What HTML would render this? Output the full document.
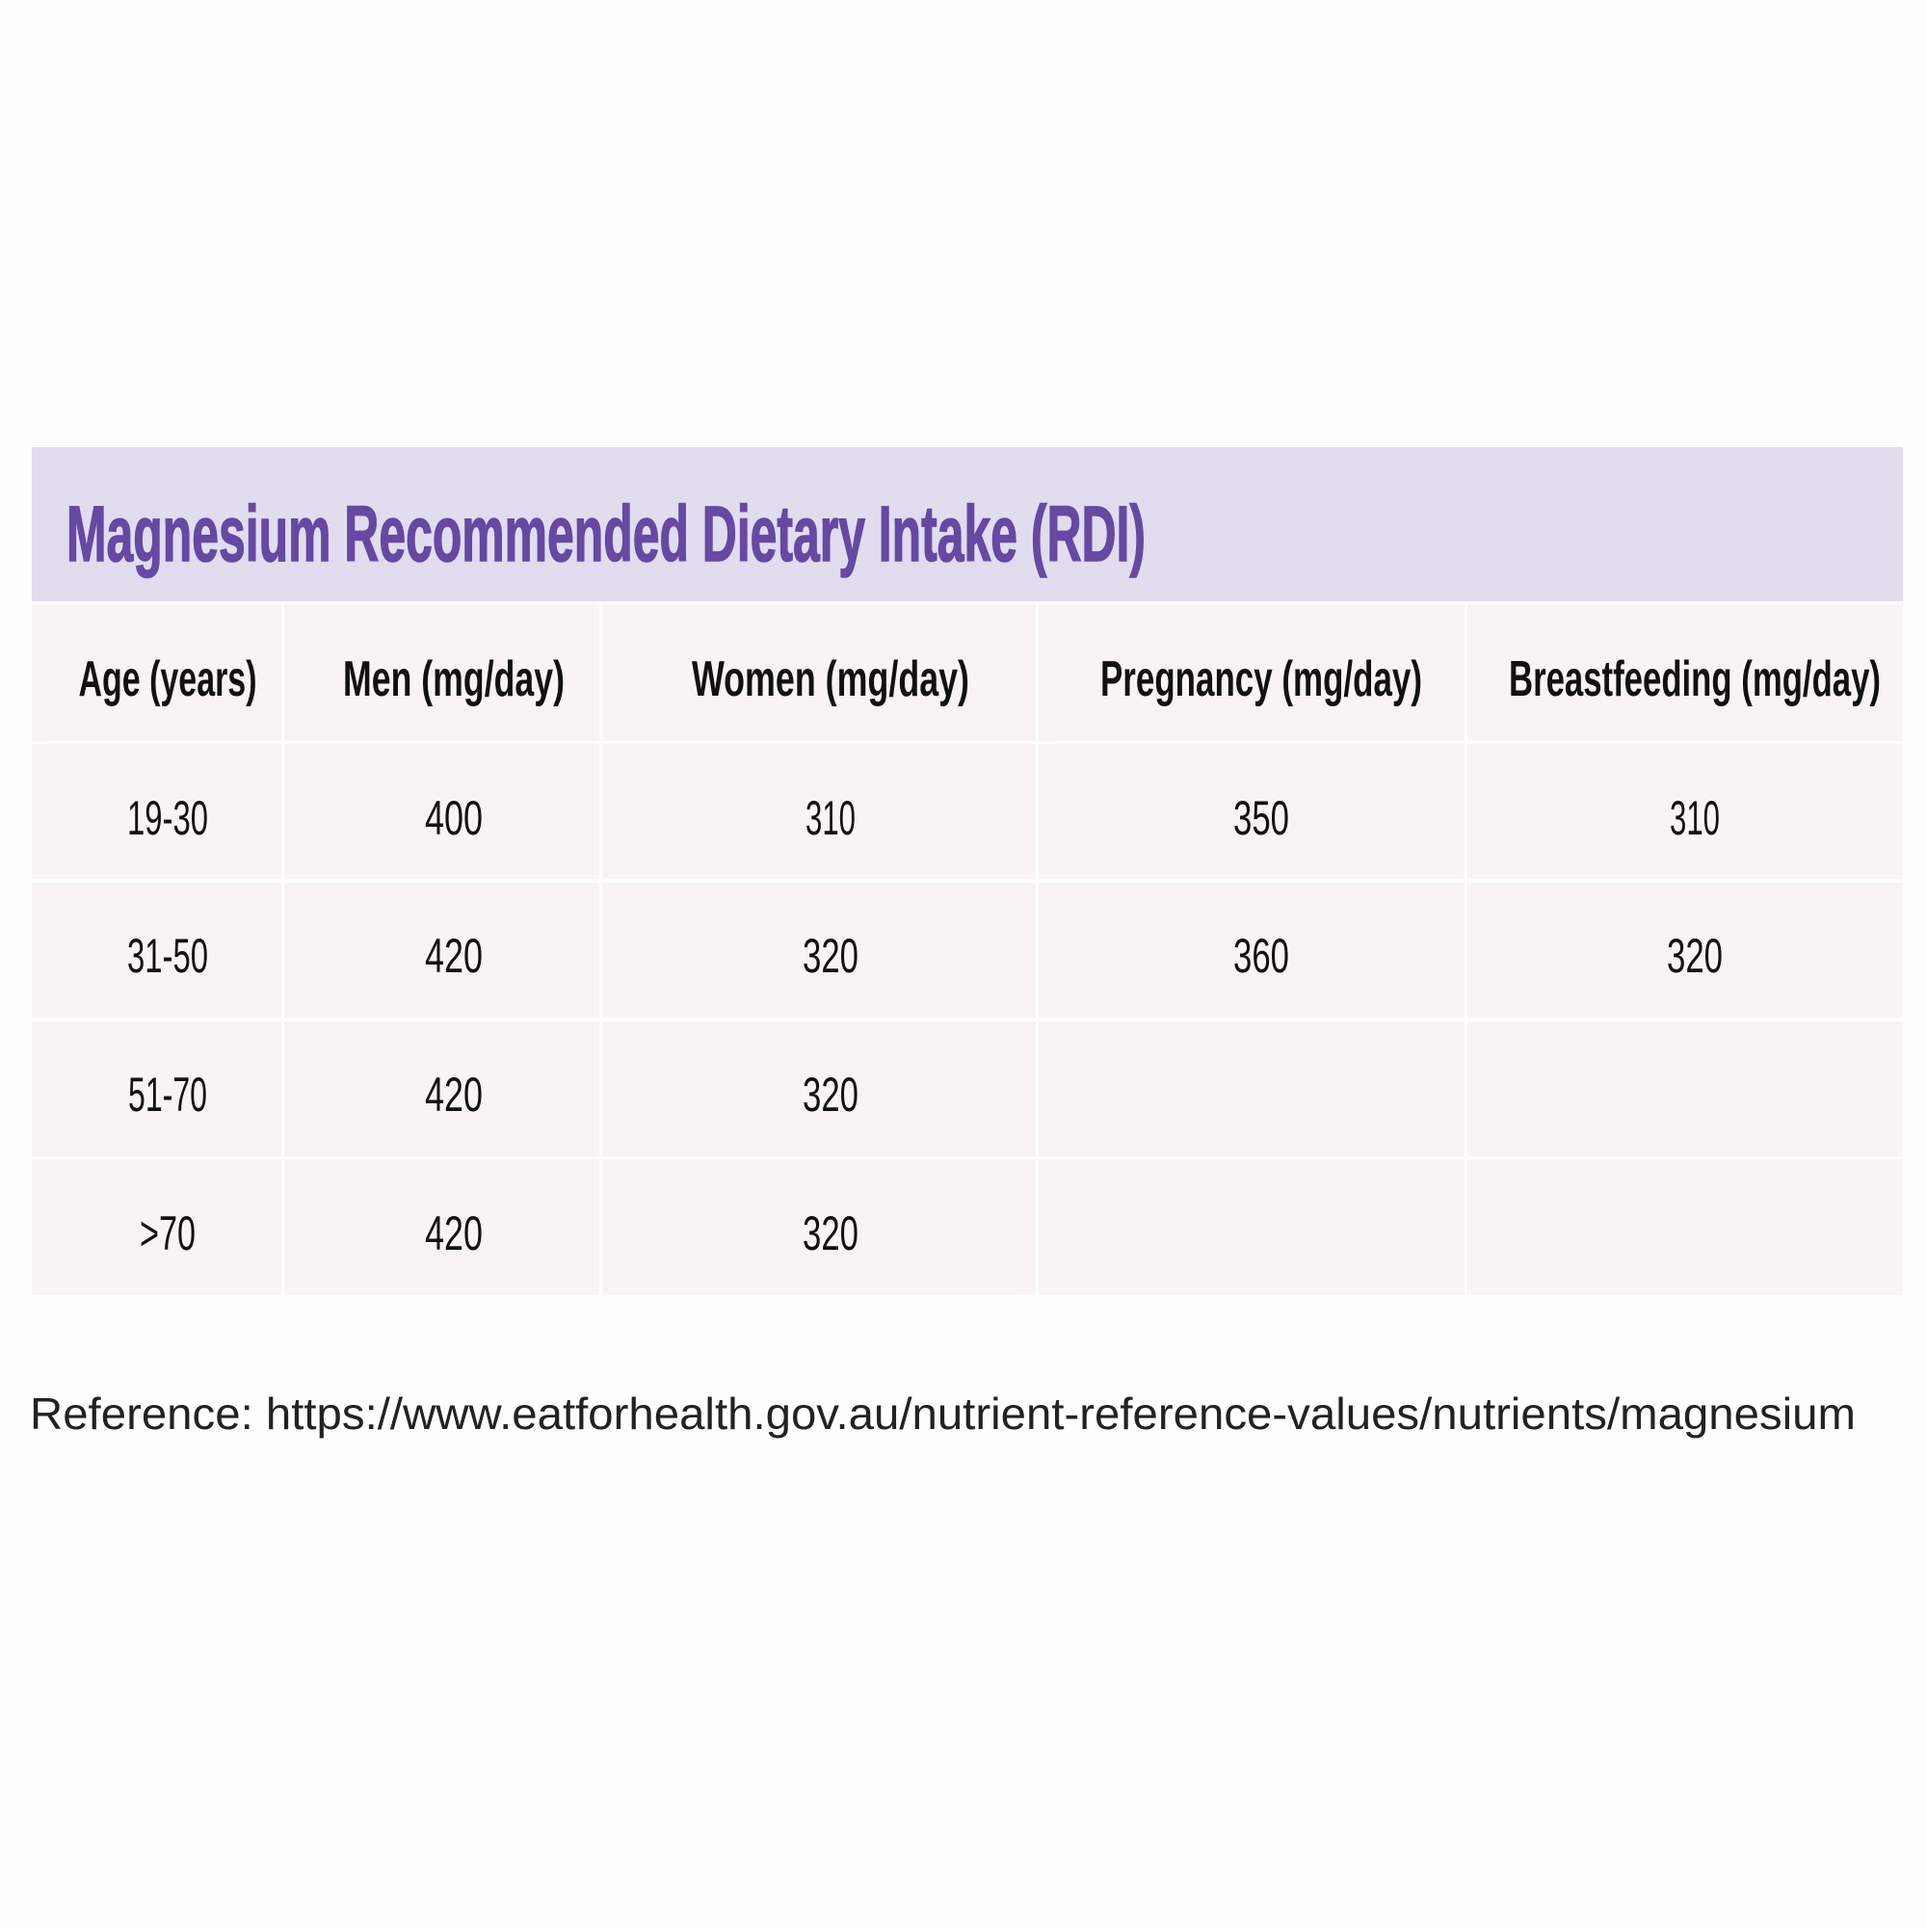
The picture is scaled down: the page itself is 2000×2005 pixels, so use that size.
<!DOCTYPE html>
<html><head><meta charset="utf-8"><style>html,body{margin:0;padding:0;background:#fff}</style></head>
<body>
<svg width="2000" height="2000" xmlns="http://www.w3.org/2000/svg" font-family="Liberation Sans, sans-serif">
<rect width="2000" height="2000" fill="#fefefe"/>
<rect x="33" y="464" width="1942" height="160" fill="#e2dcef"/>
<text x="69" y="582" font-size="82" font-weight="bold" fill="#6549a3" stroke="#6549a3" stroke-width="1.5" textLength="1120" lengthAdjust="spacingAndGlyphs">Magnesium Recommended Dietary Intake (RDI)</text>
<g fill="#f9f4f1">
<rect x="33" y="627" width="259" height="142"/><rect x="295" y="627" width="327" height="142"/><rect x="625" y="627" width="450" height="142"/><rect x="1078" y="627" width="442" height="142"/><rect x="1523" y="627" width="452" height="142"/>
<rect x="33" y="772" width="259" height="140"/><rect x="295" y="772" width="327" height="140"/><rect x="625" y="772" width="450" height="140"/><rect x="1078" y="772" width="442" height="140"/><rect x="1523" y="772" width="452" height="140"/>
<rect x="33" y="916" width="259" height="140"/><rect x="295" y="916" width="327" height="140"/><rect x="625" y="916" width="450" height="140"/><rect x="1078" y="916" width="442" height="140"/><rect x="1523" y="916" width="452" height="140"/>
<rect x="33" y="1060" width="259" height="140"/><rect x="295" y="1060" width="327" height="140"/><rect x="625" y="1060" width="450" height="140"/><rect x="1078" y="1060" width="442" height="140"/><rect x="1523" y="1060" width="452" height="140"/>
<rect x="33" y="1203" width="259" height="141"/><rect x="295" y="1203" width="327" height="141"/><rect x="625" y="1203" width="450" height="141"/><rect x="1078" y="1203" width="442" height="141"/><rect x="1523" y="1203" width="452" height="141"/>
</g>
<g font-weight="bold" font-size="52" fill="#111" text-anchor="middle">
<text x="174" y="722" textLength="185" lengthAdjust="spacingAndGlyphs">Age (years)</text>
<text x="471" y="722" textLength="230" lengthAdjust="spacingAndGlyphs">Men (mg/day)</text>
<text x="862" y="722" textLength="288" lengthAdjust="spacingAndGlyphs">Women (mg/day)</text>
<text x="1309" y="722" textLength="334" lengthAdjust="spacingAndGlyphs">Pregnancy (mg/day)</text>
<text x="1759" y="722" textLength="386" lengthAdjust="spacingAndGlyphs">Breastfeeding (mg/day)</text>
</g>
<g font-size="50" fill="#111" text-anchor="middle">
<text x="174" y="866" textLength="84" lengthAdjust="spacingAndGlyphs">19-30</text>
<text x="471" y="866" textLength="60" lengthAdjust="spacingAndGlyphs">400</text>
<text x="862" y="866" textLength="52" lengthAdjust="spacingAndGlyphs">310</text>
<text x="1309" y="866" textLength="58" lengthAdjust="spacingAndGlyphs">350</text>
<text x="1759" y="866" textLength="52" lengthAdjust="spacingAndGlyphs">310</text>
<text x="174" y="1009" textLength="84" lengthAdjust="spacingAndGlyphs">31-50</text>
<text x="471" y="1009" textLength="60" lengthAdjust="spacingAndGlyphs">420</text>
<text x="862" y="1009" textLength="58" lengthAdjust="spacingAndGlyphs">320</text>
<text x="1309" y="1009" textLength="58" lengthAdjust="spacingAndGlyphs">360</text>
<text x="1759" y="1009" textLength="58" lengthAdjust="spacingAndGlyphs">320</text>
<text x="174" y="1153" textLength="82" lengthAdjust="spacingAndGlyphs">51-70</text>
<text x="471" y="1153" textLength="60" lengthAdjust="spacingAndGlyphs">420</text>
<text x="862" y="1153" textLength="58" lengthAdjust="spacingAndGlyphs">320</text>
<text x="174" y="1297" textLength="58" lengthAdjust="spacingAndGlyphs">&gt;70</text>
<text x="471" y="1297" textLength="60" lengthAdjust="spacingAndGlyphs">420</text>
<text x="862" y="1297" textLength="58" lengthAdjust="spacingAndGlyphs">320</text>
</g>
<text x="31" y="1483" font-size="46" fill="#222" textLength="1895" lengthAdjust="spacingAndGlyphs">Reference: https://www.eatforhealth.gov.au/nutrient-reference-values/nutrients/magnesium</text>
</svg>
</body></html>
